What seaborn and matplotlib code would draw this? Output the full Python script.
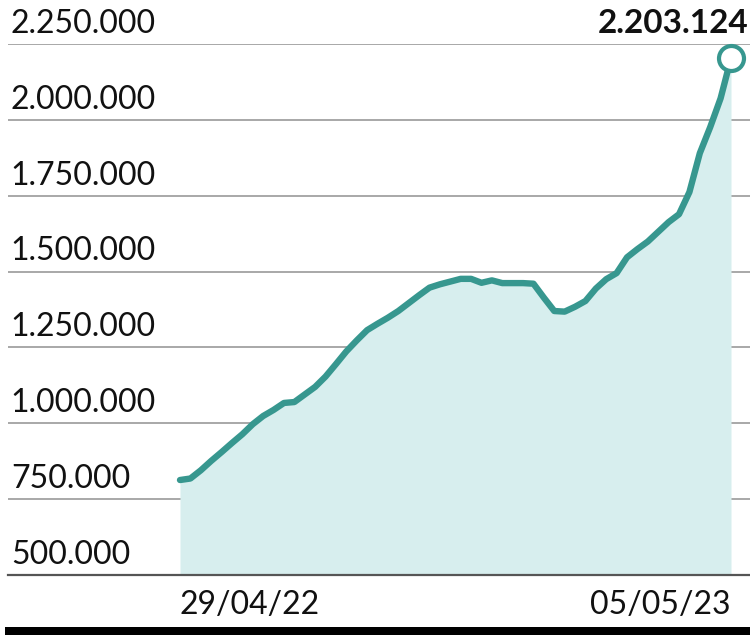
import matplotlib
matplotlib.use("Agg")
import matplotlib.pyplot as plt
import matplotlib.transforms as mtransforms
from matplotlib.patches import Rectangle
import seaborn as sns
import pandas as pd

# weekly values, 29/04/22 -> 05/05/23
dates = pd.date_range("2022-04-29", "2023-05-05", freq="7D")
values = [
    813000, 818000, 845000, 876000, 905000, 935000, 964000, 997000,
    1024000, 1044000, 1067000, 1070000, 1095000, 1120000, 1154000, 1195000,
    1237000, 1273000, 1307000, 1328000, 1348000, 1370000, 1396000, 1422000,
    1447000, 1458000, 1467000, 1476000, 1476000, 1463000, 1471000, 1462000,
    1462000, 1462000, 1460000, 1414000, 1370000, 1368000, 1384000, 1403000,
    1444000, 1475000, 1495000, 1547000, 1574000, 1599000, 1631000, 1663000,
    1689000, 1762000, 1890000, 1976000, 2071000, 2203124,
]
yticks = [500000, 750000, 1000000, 1250000, 1500000, 1750000, 2000000, 2250000]
ytick_labels = ["500.000", "750.000", "1.000.000", "1.250.000",
                "1.500.000", "1.750.000", "2.000.000", "2.250.000"]
xtick_labels = ["29/04/22", "05/05/23"]
last_label = "2.203.124"

LINE = "#37978f"
FILL = "#d7eeee"

sns.set_style("white")
plt.rcParams["font.family"] = ["Lato", "DejaVu Sans"]

df = pd.DataFrame({"date": dates, "value": values})

fig = plt.figure(figsize=(7.5, 6.35), dpi=100)
ax = fig.add_axes([8 / 750, 60 / 635, 742 / 750, 531 / 635])

ax.fill_between(df["date"], df["value"], 500000, color=FILL, lw=0, zorder=1)
sns.lineplot(data=df, x="date", y="value", ax=ax, color=LINE, lw=4.6,
             zorder=3, solid_capstyle="round", solid_joinstyle="round")
ax.plot(df["date"].iloc[-1], values[-1], "o", ms=18, mfc="white",
        mec=LINE, mew=3, zorder=4, clip_on=False)

# x range: data spans pixel 180..731 of the 8..750 axes
span = (dates[-1] - dates[0])
px = span / 551
ax.set_xlim(dates[0] - px * 172, dates[-1] + px * 19)
ax.set_ylim(500000, 2250000)

for sp in ["top", "right", "left"]:
    ax.spines[sp].set_visible(False)
ax.spines["bottom"].set_color("#555555")
ax.spines["bottom"].set_linewidth(1.6)

ax.set_yticks(yticks)
ax.set_yticklabels([])
ax.tick_params(axis="y", length=0)
ax.grid(axis="y", color="#999999", lw=1.2, zorder=0)
ax.set_axisbelow(True)

trans = mtransforms.blended_transform_factory(ax.transAxes, ax.transData)
trans = mtransforms.offset_copy(trans, fig=fig, x=2, y=8, units="points")
for v, lab in zip(yticks, ytick_labels):
    ax.text(0, v, lab, transform=trans, fontsize=23, color="#111111",
            ha="left", va="baseline")

ax.set_xticks([dates[0], dates[-1]])
ax.set_xticklabels(xtick_labels, fontsize=23, color="#111111")
ax.get_xticklabels()[0].set_ha("left")
ax.get_xticklabels()[1].set_ha("right")
ax.tick_params(axis="x", length=0, pad=11)
ax.set_xlabel("")
ax.set_ylabel("")

ax.annotate(last_label, xy=(1.0, 1.0), xycoords="axes fraction",
            xytext=(-1, 8), textcoords="offset points",
            ha="right", va="baseline", fontsize=24, fontweight="bold",
            color="#111111")

fig.add_artist(Rectangle((5 / 750, 0), 745 / 750, 8 / 635,
                         transform=fig.transFigure, color="black", lw=0))

fig.savefig("out.png", dpi=100)
